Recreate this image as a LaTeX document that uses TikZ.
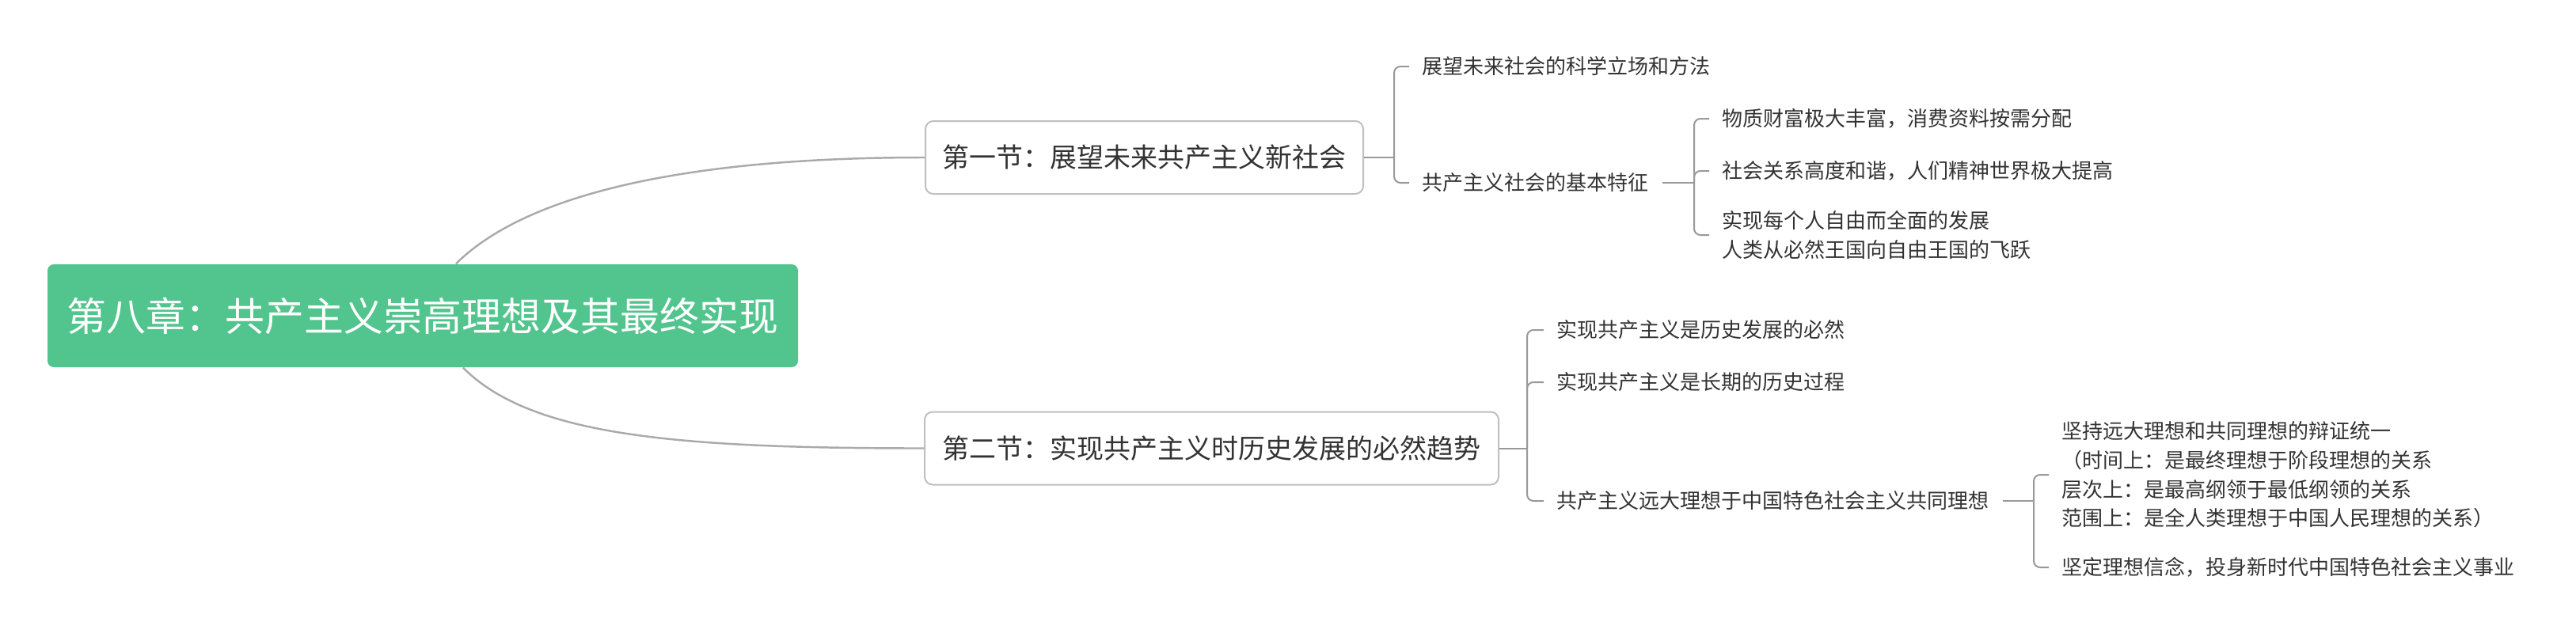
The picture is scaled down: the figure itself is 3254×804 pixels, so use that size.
\documentclass[tikz,border=0pt]{standalone}
\usepackage{fontspec}
\setmainfont{Noto Sans CJK SC}
\usetikzlibrary{positioning, calc}
\definecolor{rootgreen}{RGB}{82, 196, 141}
\definecolor{textgray}{RGB}{51, 51, 51}
\definecolor{boxgray}{RGB}{191, 191, 191}
\definecolor{linegray}{RGB}{153, 153, 153}
\definecolor{curvegray}{RGB}{170, 170, 170}

\begin{document}
\begin{tikzpicture}[x=0.1mm, y=-0.1mm]
    % Styles
    \tikzstyle{chapter} = [rectangle, rounded corners=0.8mm, minimum width=94.8mm, minimum height=13mm, fill=rootgreen, text=white, font=\fontsize{14.2pt}{17pt}\selectfont]
    \tikzstyle{section} = [rectangle, rounded corners=1mm, minimum height=9.2mm, draw=boxgray, line width=0.57pt, fill=white, text=textgray, font=\fontsize{9.67pt}{12pt}\selectfont]
    \tikzstyle{topic} = [inner xsep=1.6mm, inner ysep=0pt, anchor=west, align=left, text=textgray, font=\fontsize{7.4pt}{10.4pt}\selectfont]
    \tikzstyle{curve} = [draw=curvegray, line width=0.7pt]
    \tikzstyle{bracket} = [draw=linegray, line width=0.57pt, rounded corners=0.8mm]

    \useasboundingbox (0,0) rectangle (3254,804);

    % Nodes
    \node (chap) [chapter] at (534,399) {第八章：共产主义崇高理想及其最终实现};

    \node (sec1) [section, minimum width=55.3mm] at (1445.5,199) {第一节：展望未来共产主义新社会};
    \node (sec2) [section, minimum width=72.5mm] at (1530.5,566.5) {第二节：实现共产主义时历史发展的必然趋势};

    \node (stand) [topic] at (1780,84) {展望未来社会的科学立场和方法};
    \node (feature) [topic] at (1780,231) {共产主义社会的基本特征};

    \node (wealth) [topic] at (2159,150) {物质财富极大丰富，消费资料按需分配};
    \node (harmony) [topic] at (2159,216) {社会关系高度和谐，人们精神世界极大提高};
    \node (freedom) [topic] at (2159,297) {实现每个人自由而全面的发展\\人类从必然王国向自由王国的飞跃};

    \node (necessity) [topic] at (1950,417) {实现共产主义是历史发展的必然};
    \node (longterm) [topic] at (1950,483) {实现共产主义是长期的历史过程};
    \node (ideal) [topic] at (1950,633) {共产主义远大理想于中国特色社会主义共同理想};

    \node (unity) [topic] at (2588,600) {坚持远大理想和共同理想的辩证统一\\（时间上：是最终理想于阶段理想的关系\\层次上：是最高纲领于最低纲领的关系\\范围上：是全人类理想于中国人民理想的关系）};
    \node (belief) [topic] at (2588,717) {坚定理想信念，投身新时代中国特色社会主义事业};

    \coordinate (spine1) at (1761,199);
    \coordinate (spine2) at (2140,231);
    \coordinate (spine3) at (1929,566.5);
    \coordinate (spine4) at (2569,633);

    % Connections
    \draw[curve] ([xshift=4.2mm]chap.north) .. controls (660,250) and (850,199) .. (sec1.west);
    \draw[curve] ([xshift=5.1mm]chap.south) .. controls (670,550) and (850,566.5) .. (sec2.west);

    \draw[bracket] (sec1.east) -- (spine1);
    \draw[bracket] (spine1) |- (stand.west);
    \draw[bracket] (spine1) |- (feature.west);

    \draw[bracket] (feature.east) -- (spine2);
    \draw[bracket] (spine2) |- (wealth.west);
    \draw[bracket] (spine2) |- (harmony.west);
    \draw[bracket] (spine2) |- (freedom.west);

    \draw[bracket] (sec2.east) -- (spine3);
    \draw[bracket] (spine3) |- (necessity.west);
    \draw[bracket] (spine3) |- (longterm.west);
    \draw[bracket] (spine3) |- (ideal.west);

    \draw[bracket] (ideal.east) -- (spine4);
    \draw[bracket] (spine4) |- (unity.west);
    \draw[bracket] (spine4) |- (belief.west);
\end{tikzpicture}
\end{document}
